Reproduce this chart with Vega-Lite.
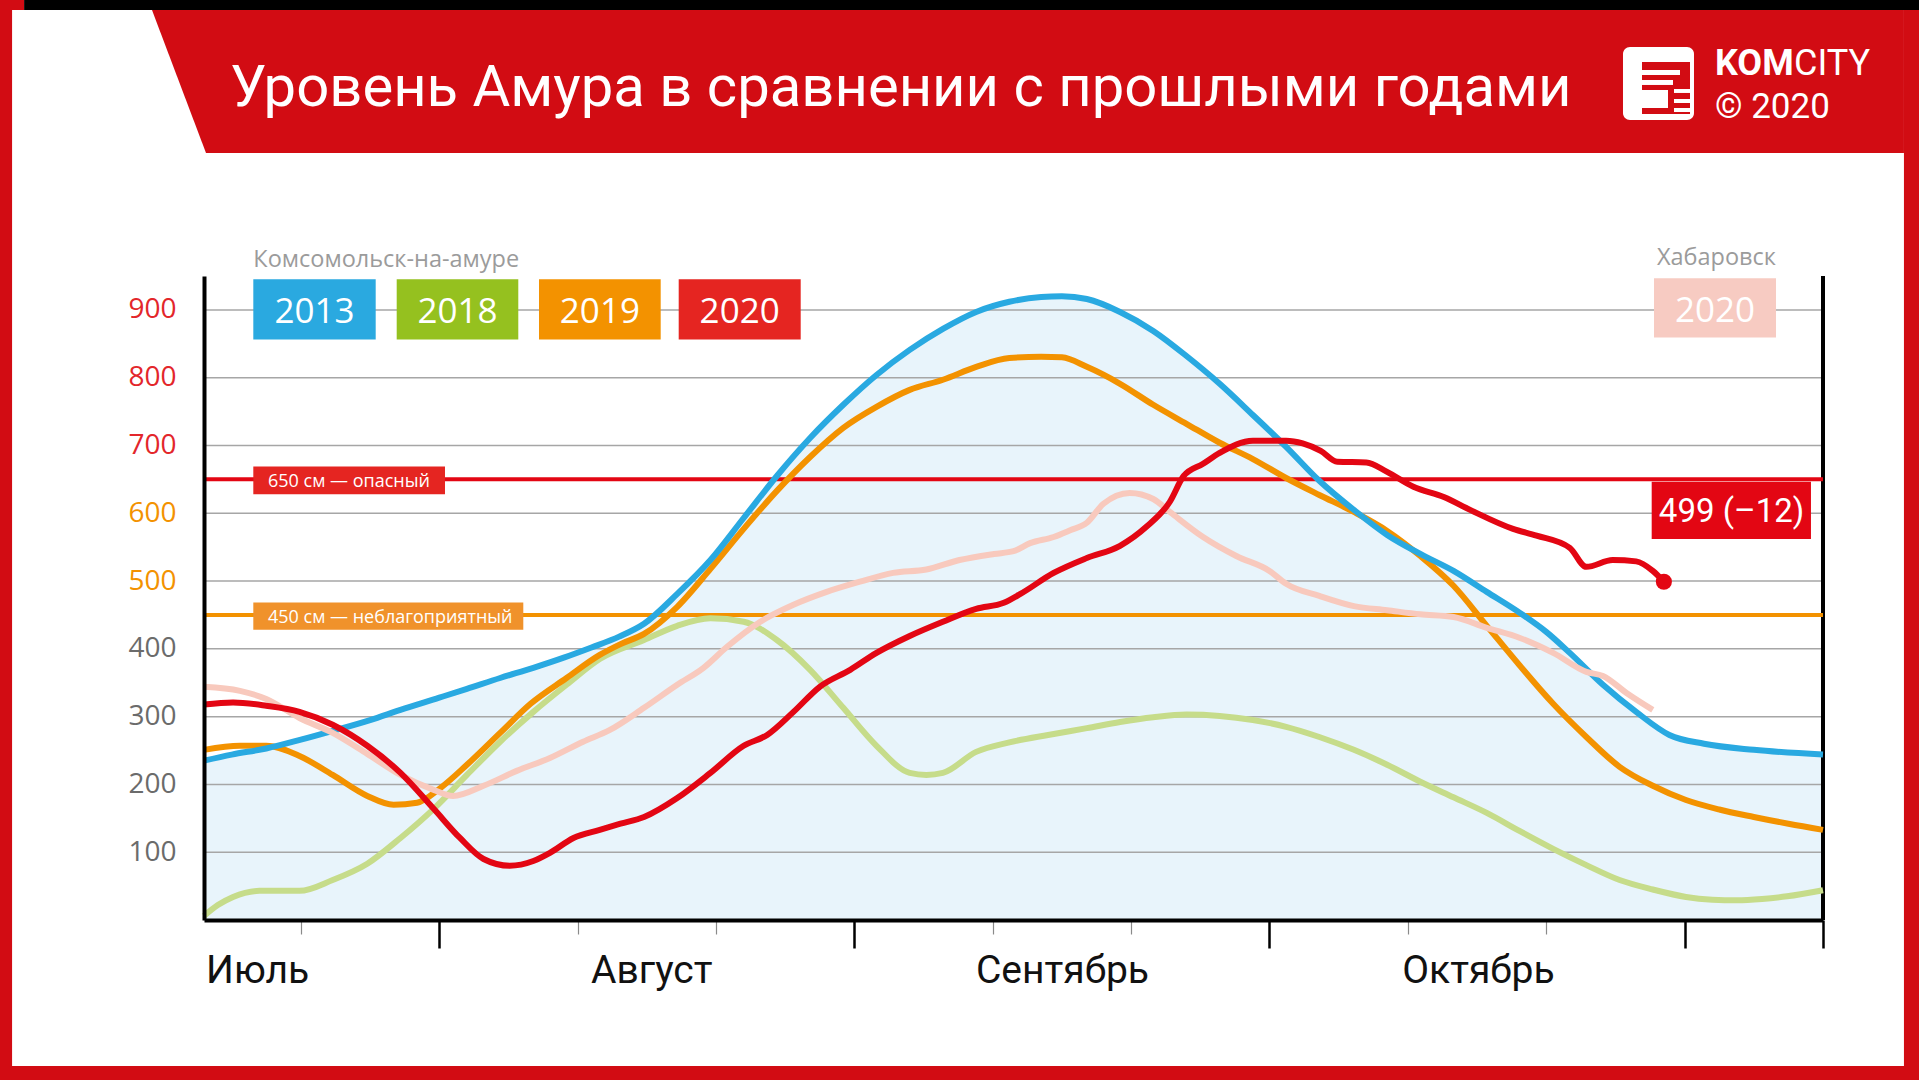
{
"$schema": "https://vega.github.io/schema/vega-lite/v6.json",
"width": 1619, "height": 644,
"autosize": {"type": "none"},
"padding": {"left": 204, "top": 276, "right": 96, "bottom": 160},
"background": "#ffffff",
"config": {"view": {"stroke": null}, "font": "Open Sans", "axis": {"grid": false, "title": null}},
"datasets": {
"s2013": [{"day":13,"level":235},{"day":15,"level":244},{"day":17.5,"level":253},{"day":20,"level":266},{"day":22.3,"level":279},{"day":25,"level":295},{"day":27.2,"level":310},{"day":30,"level":328},{"day":32,"level":341},{"day":34.4,"level":357},{"day":36.8,"level":372},{"day":39,"level":387},{"day":41,"level":402},{"day":43,"level":418},{"day":44.8,"level":437},{"day":47.2,"level":481},{"day":49.6,"level":531},{"day":52,"level":593},{"day":54.4,"level":655},{"day":56.8,"level":711},{"day":59.2,"level":760},{"day":61.6,"level":804},{"day":64,"level":841},{"day":66.4,"level":872},{"day":68.8,"level":897},{"day":71.2,"level":912},{"day":73.5,"level":919},{"day":75,"level":920},{"day":76.8,"level":916},{"day":79.2,"level":897},{"day":81.6,"level":869},{"day":84,"level":832},{"day":86.4,"level":791},{"day":88.8,"level":745},{"day":91.2,"level":698},{"day":93.6,"level":648},{"day":96.1,"level":605},{"day":98.5,"level":568},{"day":100.9,"level":540},{"day":103.3,"level":515},{"day":105.7,"level":484},{"day":108.1,"level":453},{"day":110,"level":425},{"day":111.7,"level":394},{"day":114.1,"level":347},{"day":116.5,"level":307},{"day":118.9,"level":273},{"day":121.4,"level":260},{"day":125,"level":251},{"day":130,"level":244}],
"s2018": [{"day":13,"level":6},{"day":14,"level":22},{"day":15.1,"level":34},{"day":17,"level":43},{"day":19.9,"level":43},{"day":22.3,"level":59},{"day":24.8,"level":83},{"day":27.2,"level":121},{"day":29.6,"level":164},{"day":32,"level":214},{"day":34.4,"level":263},{"day":36.8,"level":307},{"day":39.2,"level":347},{"day":41.6,"level":385},{"day":44.8,"level":413},{"day":47.2,"level":434},{"day":49.6,"level":445},{"day":52,"level":440},{"day":54.4,"level":413},{"day":56.8,"level":369},{"day":59.2,"level":313},{"day":61.6,"level":257},{"day":64,"level":217},{"day":65.2,"level":214},{"day":66.4,"level":217},{"day":68.8,"level":248},{"day":71.2,"level":262},{"day":74,"level":273},{"day":76.8,"level":283},{"day":79.2,"level":292},{"day":81.6,"level":299},{"day":84,"level":303},{"day":86.4,"level":301},{"day":88.8,"level":295},{"day":91.2,"level":285},{"day":93.6,"level":270},{"day":96.1,"level":251},{"day":98.5,"level":229},{"day":100.9,"level":204},{"day":103.3,"level":181},{"day":105.7,"level":158},{"day":108.1,"level":131},{"day":110.5,"level":105},{"day":112.9,"level":81},{"day":115.3,"level":59},{"day":117.7,"level":45},{"day":120.1,"level":34},{"day":122,"level":30},{"day":123.8,"level":29},{"day":125.6,"level":31},{"day":127.4,"level":35},{"day":130,"level":44}],
"s2019": [{"day":13,"level":251},{"day":15.6,"level":257},{"day":17.5,"level":257},{"day":19.9,"level":242},{"day":22.3,"level":214},{"day":24.8,"level":183},{"day":26.7,"level":170},{"day":28.4,"level":173},{"day":30.1,"level":195},{"day":32,"level":229},{"day":34.4,"level":276},{"day":36.6,"level":319},{"day":39.2,"level":357},{"day":41.6,"level":391},{"day":43.1,"level":407},{"day":44.8,"level":422},{"day":47.2,"level":462},{"day":49.6,"level":518},{"day":52,"level":577},{"day":54.4,"level":633},{"day":56.8,"level":683},{"day":59.2,"level":726},{"day":61.6,"level":757},{"day":64,"level":782},{"day":66.4,"level":797},{"day":68.8,"level":816},{"day":71.2,"level":829},{"day":73.5,"level":831},{"day":75,"level":830},{"day":76.8,"level":816},{"day":79.2,"level":791},{"day":81.6,"level":760},{"day":84,"level":732},{"day":86.4,"level":704},{"day":88.8,"level":680},{"day":91.2,"level":652},{"day":93.6,"level":627},{"day":96.1,"level":602},{"day":98.5,"level":574},{"day":100.9,"level":537},{"day":103.3,"level":493},{"day":105.7,"level":434},{"day":108.1,"level":375},{"day":110.5,"level":319},{"day":112.9,"level":270},{"day":115.3,"level":226},{"day":117.7,"level":198},{"day":120.1,"level":177},{"day":122.5,"level":163},{"day":125,"level":152},{"day":127.5,"level":142},{"day":130,"level":133}],
"s2020": [{"day":13,"level":318},{"day":15.1,"level":321},{"day":17.5,"level":316},{"day":19.9,"level":307},{"day":22.3,"level":288},{"day":24.8,"level":257},{"day":27.2,"level":217},{"day":29.6,"level":164},{"day":31.5,"level":121},{"day":33.2,"level":90},{"day":35.1,"level":80},{"day":36.8,"level":87},{"day":38,"level":99},{"day":39.7,"level":121},{"day":41.6,"level":133},{"day":43.1,"level":142},{"day":44.8,"level":152},{"day":47.2,"level":180},{"day":49.6,"level":217},{"day":52,"level":257},{"day":53.7,"level":273},{"day":55.6,"level":307},{"day":57.5,"level":344},{"day":59.7,"level":369},{"day":61.6,"level":394},{"day":64,"level":419},{"day":66.4,"level":440},{"day":68.8,"level":459},{"day":70.8,"level":468},{"day":72,"level":481},{"day":74.4,"level":512},{"day":76.8,"level":534},{"day":79.2,"level":552},{"day":81.1,"level":580},{"day":82.8,"level":617},{"day":83.8,"level":655},{"day":85.2,"level":673},{"day":86.4,"level":689},{"day":88.8,"level":707},{"day":91.2,"level":707},{"day":92.4,"level":703},{"day":93.7,"level":692},{"day":94.9,"level":676},{"day":97,"level":675},{"day":98.5,"level":661},{"day":100.4,"level":639},{"day":102.6,"level":624},{"day":104.5,"level":605},{"day":107.6,"level":577},{"day":109.3,"level":567},{"day":111.7,"level":549},{"day":112.9,"level":521},{"day":114.8,"level":531},{"day":116.5,"level":529},{"day":117.7,"level":515},{"day":118.5,"level":499}],
"khab2020": [{"day":13,"level":344},{"day":15.6,"level":338},{"day":17.5,"level":326},{"day":19.9,"level":298},{"day":22.3,"level":276},{"day":24.8,"level":245},{"day":27.2,"level":214},{"day":29.6,"level":192},{"day":31,"level":183},{"day":33.2,"level":198},{"day":35.6,"level":220},{"day":38,"level":239},{"day":40.4,"level":263},{"day":42.3,"level":280},{"day":44.8,"level":313},{"day":47.2,"level":347},{"day":49.1,"level":372},{"day":50.8,"level":403},{"day":53.2,"level":440},{"day":55.6,"level":465},{"day":58,"level":484},{"day":60.4,"level":499},{"day":62.8,"level":512},{"day":65.2,"level":517},{"day":67.6,"level":531},{"day":70.1,"level":540},{"day":71.5,"level":544},{"day":72.7,"level":556},{"day":74.4,"level":565},{"day":75.6,"level":575},{"day":76.8,"level":586},{"day":78,"level":614},{"day":79.9,"level":630},{"day":81.6,"level":621},{"day":82.8,"level":602},{"day":85.2,"level":565},{"day":87.6,"level":537},{"day":90,"level":515},{"day":91.2,"level":496},{"day":93.6,"level":478},{"day":96.1,"level":463},{"day":98.5,"level":457},{"day":100.9,"level":451},{"day":103.3,"level":447},{"day":105.7,"level":431},{"day":108.1,"level":416},{"day":110.5,"level":394},{"day":112.9,"level":366},{"day":114.1,"level":360},{"day":115.8,"level":335},{"day":117.7,"level":310}],
"grid": [{"level":100},{"level":200},{"level":300},{"level":400},{"level":500},{"level":600},{"level":700},{"level":800},{"level":900}],
"thresholds": [{"level":650,"kind":"опасный"},{"level":450,"kind":"неблагоприятный"}],
"banner": [{"day":9.24,"top":1342.4,"bottom":1342.4},{"day":13.145,"top":1342.4,"bottom":1131.5},{"day":135.85,"top":1342.4,"bottom":1131.5}]
},
"layer": [
{"data":{"name":"s2013"},"mark":{"type":"area","color":"#e8f4fb","interpolate":"monotone"},
 "encoding":{
  "x":{"field":"day","type":"quantitative","scale":{"domain":[13,130],"nice":false,"zero":false},
   "axis":{"values":[20,30,40,50,60,70,80,90,100,110,120,130],"labels":false,"title":null,"grid":false,"domain":true,"ticks":true,"domainColor":"#000000","domainWidth":4,"zindex":1,
    "tickSize":{"condition":{"test":"datum.value % 30 == 0 || datum.value == 130","value":28},"value":14},
    "tickColor":{"condition":{"test":"datum.value % 30 == 0 || datum.value == 130","value":"#000000"},"value":"#8a8a8a"},
    "tickWidth":{"condition":{"test":"datum.value % 30 == 0 || datum.value == 130","value":2.5},"value":1.2}}},
  "y":{"field":"level","type":"quantitative","scale":{"domain":[0,950],"nice":false,"zero":false},
   "axis":{"values":[100,200,300,400,500,600,700,800,900],"title":null,"grid":false,"ticks":false,"domain":true,"labels":true,"domainColor":"#000000","domainWidth":4,"zindex":1,
    "labelFont":"Open Sans","labelFontSize":28,"labelPadding":28,
    "labelColor":{"condition":[{"test":"datum.value >= 700","value":"#e3262b"},{"test":"datum.value >= 500","value":"#f39200"}],"value":"#6b6b6b"}}}}},
{"data":{"name":"grid"},"mark":{"type":"rule","color":"#a6a6a6","strokeWidth":1.5},
 "encoding":{"y":{"field":"level","type":"quantitative","scale":{"domain":[0,950],"nice":false,"zero":false}}}},
{"data":{"values":[{}]},"mark":{"type":"rule","color":"#000000","strokeWidth":4},
 "encoding":{"x":{"datum":130,"type":"quantitative","scale":{"domain":[13,130],"nice":false,"zero":false}}}},
{"data":{"name":"thresholds"},"mark":{"type":"rule","strokeWidth":4},
 "encoding":{"y":{"field":"level","type":"quantitative","scale":{"domain":[0,950],"nice":false,"zero":false}},
  "stroke":{"field":"kind","type":"nominal","scale":{"domain":["опасный","неблагоприятный"],"range":["#e30613","#f39200"]},"legend":null}}},

{"data":{"values":[{}]},"mark":{"type":"rect","color":"#e52521","clip":false},
 "encoding":{"x":{"datum":16.563,"type":"quantitative","scale":{"domain":[13,130],"nice":false,"zero":false}},"x2":{"datum":30.416},
  "y":{"datum":628.0,"type":"quantitative","scale":{"domain":[0,950],"nice":false,"zero":false}},"y2":{"datum":669.0}}},
{"data":{"values":[{}]},"mark":{"type":"rect","color":"#f0922b","clip":false},
 "encoding":{"x":{"datum":16.563,"type":"quantitative","scale":{"domain":[13,130],"nice":false,"zero":false}},"x2":{"datum":36.075},
  "y":{"datum":428.1,"type":"quantitative","scale":{"domain":[0,950],"nice":false,"zero":false}},"y2":{"datum":468.4}}},
{"data":{"values":[{}]},"mark":{"type":"text","text":"650 см — опасный","font":"Open Sans","fontSize":18,"color":"#ffffff","align":"left","baseline":"alphabetic","clip":false},
 "encoding":{"x":{"datum":17.625,"type":"quantitative","scale":{"domain":[13,130],"nice":false,"zero":false}},
  "y":{"datum":639.2,"type":"quantitative","scale":{"domain":[0,950],"nice":false,"zero":false}}}},
{"data":{"values":[{}]},"mark":{"type":"text","text":"450 см — неблагоприятный","font":"Open Sans","fontSize":18,"color":"#ffffff","align":"left","baseline":"alphabetic","clip":false},
 "encoding":{"x":{"datum":17.625,"type":"quantitative","scale":{"domain":[13,130],"nice":false,"zero":false}},
  "y":{"datum":437.7,"type":"quantitative","scale":{"domain":[0,950],"nice":false,"zero":false}}}},

{"data":{"values":[{}]},"mark":{"type":"rect","color":"#2aa9e0","clip":false},
 "encoding":{"x":{"datum":16.563,"type":"quantitative","scale":{"domain":[13,130],"nice":false,"zero":false}},"x2":{"datum":25.408},
  "y":{"datum":856.5,"type":"quantitative","scale":{"domain":[0,950],"nice":false,"zero":false}},"y2":{"datum":945.1}}},
{"data":{"values":[{}]},"mark":{"type":"rect","color":"#95c11f","clip":false},
 "encoding":{"x":{"datum":26.926,"type":"quantitative","scale":{"domain":[13,130],"nice":false,"zero":false}},"x2":{"datum":35.713},
  "y":{"datum":856.5,"type":"quantitative","scale":{"domain":[0,950],"nice":false,"zero":false}},"y2":{"datum":945.1}}},
{"data":{"values":[{}]},"mark":{"type":"rect","color":"#f39200","clip":false},
 "encoding":{"x":{"datum":37.21,"type":"quantitative","scale":{"domain":[13,130],"nice":false,"zero":false}},"x2":{"datum":46.004},
  "y":{"datum":856.5,"type":"quantitative","scale":{"domain":[0,950],"nice":false,"zero":false}},"y2":{"datum":945.1}}},
{"data":{"values":[{}]},"mark":{"type":"rect","color":"#e52521","clip":false},
 "encoding":{"x":{"datum":47.305,"type":"quantitative","scale":{"domain":[13,130],"nice":false,"zero":false}},"x2":{"datum":56.122},
  "y":{"datum":856.5,"type":"quantitative","scale":{"domain":[0,950],"nice":false,"zero":false}},"y2":{"datum":945.1}}},
{"data":{"values":[{}]},"mark":{"type":"rect","color":"#f7cbc2","clip":false},
 "encoding":{"x":{"datum":117.787,"type":"quantitative","scale":{"domain":[13,130],"nice":false,"zero":false}},"x2":{"datum":126.604},
  "y":{"datum":859.4,"type":"quantitative","scale":{"domain":[0,950],"nice":false,"zero":false}},"y2":{"datum":946.5}}},
{"data":{"values":[{}]},"mark":{"type":"text","text":"2013","font":"Open Sans","fontSize":35,"color":"#ffffff","align":"center","baseline":"alphabetic","clip":false},
 "encoding":{"x":{"datum":20.99,"type":"quantitative","scale":{"domain":[13,130],"nice":false,"zero":false}},
  "y":{"datum":880,"type":"quantitative","scale":{"domain":[0,950],"nice":false,"zero":false}}}},
{"data":{"values":[{}]},"mark":{"type":"text","text":"2018","font":"Open Sans","fontSize":35,"color":"#ffffff","align":"center","baseline":"alphabetic","clip":false},
 "encoding":{"x":{"datum":31.32,"type":"quantitative","scale":{"domain":[13,130],"nice":false,"zero":false}},
  "y":{"datum":880,"type":"quantitative","scale":{"domain":[0,950],"nice":false,"zero":false}}}},
{"data":{"values":[{}]},"mark":{"type":"text","text":"2019","font":"Open Sans","fontSize":35,"color":"#ffffff","align":"center","baseline":"alphabetic","clip":false},
 "encoding":{"x":{"datum":41.61,"type":"quantitative","scale":{"domain":[13,130],"nice":false,"zero":false}},
  "y":{"datum":880,"type":"quantitative","scale":{"domain":[0,950],"nice":false,"zero":false}}}},
{"data":{"values":[{}]},"mark":{"type":"text","text":"2020","font":"Open Sans","fontSize":35,"color":"#ffffff","align":"center","baseline":"alphabetic","clip":false},
 "encoding":{"x":{"datum":51.71,"type":"quantitative","scale":{"domain":[13,130],"nice":false,"zero":false}},
  "y":{"datum":880,"type":"quantitative","scale":{"domain":[0,950],"nice":false,"zero":false}}}},
{"data":{"values":[{}]},"mark":{"type":"text","text":"2020","font":"Open Sans","fontSize":35,"color":"#ffffff","align":"center","baseline":"alphabetic","clip":false},
 "encoding":{"x":{"datum":122.2,"type":"quantitative","scale":{"domain":[13,130],"nice":false,"zero":false}},
  "y":{"datum":882,"type":"quantitative","scale":{"domain":[0,950],"nice":false,"zero":false}}}},
{"data":{"values":[{}]},"mark":{"type":"text","text":"Комсомольск-на-амуре","font":"Open Sans","fontSize":23.5,"color":"#9b9b9b","align":"left","baseline":"alphabetic","clip":false},
 "encoding":{"x":{"datum":16.563,"type":"quantitative","scale":{"domain":[13,130],"nice":false,"zero":false}},
  "y":{"datum":963.3,"type":"quantitative","scale":{"domain":[0,950],"nice":false,"zero":false}}}},
{"data":{"values":[{}]},"mark":{"type":"text","text":"Хабаровск","font":"Open Sans","fontSize":23.5,"color":"#9b9b9b","align":"right","baseline":"alphabetic","clip":false},
 "encoding":{"x":{"datum":126.604,"type":"quantitative","scale":{"domain":[13,130],"nice":false,"zero":false}},
  "y":{"datum":966.2,"type":"quantitative","scale":{"domain":[0,950],"nice":false,"zero":false}}}},

{"data":{"name":"s2018"},"mark":{"type":"line","color":"#c6dc8a","strokeWidth":6,"interpolate":"monotone"},
 "encoding":{"x":{"field":"day","type":"quantitative","scale":{"domain":[13,130],"nice":false,"zero":false}},
  "y":{"field":"level","type":"quantitative","scale":{"domain":[0,950],"nice":false,"zero":false}}}},
{"data":{"name":"s2019"},"mark":{"type":"line","color":"#f39200","strokeWidth":6,"interpolate":"monotone"},
 "encoding":{"x":{"field":"day","type":"quantitative","scale":{"domain":[13,130],"nice":false,"zero":false}},
  "y":{"field":"level","type":"quantitative","scale":{"domain":[0,950],"nice":false,"zero":false}}}},
{"data":{"name":"s2013"},"mark":{"type":"line","color":"#29a9e1","strokeWidth":6,"interpolate":"monotone"},
 "encoding":{"x":{"field":"day","type":"quantitative","scale":{"domain":[13,130],"nice":false,"zero":false}},
  "y":{"field":"level","type":"quantitative","scale":{"domain":[0,950],"nice":false,"zero":false}}}},
{"data":{"name":"khab2020"},"mark":{"type":"line","color":"#f8c9bd","strokeWidth":6,"interpolate":"monotone"},
 "encoding":{"x":{"field":"day","type":"quantitative","scale":{"domain":[13,130],"nice":false,"zero":false}},
  "y":{"field":"level","type":"quantitative","scale":{"domain":[0,950],"nice":false,"zero":false}}}},
{"data":{"name":"s2020"},"mark":{"type":"line","color":"#e30613","strokeWidth":6,"interpolate":"monotone"},
 "encoding":{"x":{"field":"day","type":"quantitative","scale":{"domain":[13,130],"nice":false,"zero":false}},
  "y":{"field":"level","type":"quantitative","scale":{"domain":[0,950],"nice":false,"zero":false}}}},
{"data":{"name":"s2020"},"transform":[{"filter":"datum.day == 118.5"}],"mark":{"type":"point","filled":true,"size":260,"color":"#e30613","opacity":1},
 "encoding":{"x":{"field":"day","type":"quantitative","scale":{"domain":[13,130],"nice":false,"zero":false}},
  "y":{"field":"level","type":"quantitative","scale":{"domain":[0,950],"nice":false,"zero":false}}}},

{"data":{"values":[{}]},"mark":{"type":"rect","color":"#e30613","clip":false},
 "encoding":{"x":{"datum":117.62,"type":"quantitative","scale":{"domain":[13,130],"nice":false,"zero":false}},"x2":{"datum":129.13},
  "y":{"datum":562.0,"type":"quantitative","scale":{"domain":[0,950],"nice":false,"zero":false}},"y2":{"datum":646.4}}},
{"data":{"values":[{}]},"mark":{"type":"text","text":"499 (–12)","font":"Roboto","fontSize":33,"color":"#ffffff","align":"center","baseline":"alphabetic","clip":false},
 "encoding":{"x":{"datum":123.39,"type":"quantitative","scale":{"domain":[13,130],"nice":false,"zero":false}},
  "y":{"datum":587.4,"type":"quantitative","scale":{"domain":[0,950],"nice":false,"zero":false}}}},

{"data":{"values":[{}]},"mark":{"type":"text","text":"Июль","font":"Roboto","fontSize":39,"color":"#111111","align":"left","baseline":"alphabetic","clip":false},
 "encoding":{"x":{"datum":13.15,"type":"quantitative","scale":{"domain":[13,130],"nice":false,"zero":false}},
  "y":{"datum":-92.9,"type":"quantitative","scale":{"domain":[0,950],"nice":false,"zero":false}}}},
{"data":{"values":[{}]},"mark":{"type":"text","text":"Август","font":"Roboto","fontSize":39,"color":"#111111","align":"center","baseline":"alphabetic","clip":false},
 "encoding":{"x":{"datum":45.36,"type":"quantitative","scale":{"domain":[13,130],"nice":false,"zero":false}},
  "y":{"datum":-92.9,"type":"quantitative","scale":{"domain":[0,950],"nice":false,"zero":false}}}},
{"data":{"values":[{}]},"mark":{"type":"text","text":"Сентябрь","font":"Roboto","fontSize":39,"color":"#111111","align":"center","baseline":"alphabetic","clip":false},
 "encoding":{"x":{"datum":75.04,"type":"quantitative","scale":{"domain":[13,130],"nice":false,"zero":false}},
  "y":{"datum":-92.9,"type":"quantitative","scale":{"domain":[0,950],"nice":false,"zero":false}}}},
{"data":{"values":[{}]},"mark":{"type":"text","text":"Октябрь","font":"Roboto","fontSize":39,"color":"#111111","align":"center","baseline":"alphabetic","clip":false},
 "encoding":{"x":{"datum":105.1,"type":"quantitative","scale":{"domain":[13,130],"nice":false,"zero":false}},
  "y":{"datum":-92.9,"type":"quantitative","scale":{"domain":[0,950],"nice":false,"zero":false}}}},

{"data":{"name":"banner"},"mark":{"type":"area","color":"#d20c13","orient":"vertical","interpolate":"linear","clip":false},
 "encoding":{"x":{"field":"day","type":"quantitative","scale":{"domain":[13,130],"nice":false,"zero":false}},
  "y":{"field":"top","type":"quantitative","scale":{"domain":[0,950],"nice":false,"zero":false}},"y2":{"field":"bottom"}}},
{"data":{"values":[{}]},"mark":{"type":"rect","color":"#d20c13","clip":false},
 "encoding":{"x":{"datum":-1.75,"type":"quantitative","scale":{"domain":[13,130],"nice":false,"zero":false}},"x2":{"datum":-0.87},
  "y":{"datum":-236,"type":"quantitative","scale":{"domain":[0,950],"nice":false,"zero":false}},"y2":{"datum":1357.2}}},
{"data":{"values":[{}]},"mark":{"type":"rect","color":"#d20c13","clip":false},
 "encoding":{"x":{"datum":-1.75,"type":"quantitative","scale":{"domain":[13,130],"nice":false,"zero":false}},"x2":{"datum":0},
  "y":{"datum":1342.4,"type":"quantitative","scale":{"domain":[0,950],"nice":false,"zero":false}},"y2":{"datum":1357.2}}},
{"data":{"values":[{}]},"mark":{"type":"rect","color":"#d20c13","clip":false},
 "encoding":{"x":{"datum":135.85,"type":"quantitative","scale":{"domain":[13,130],"nice":false,"zero":false}},"x2":{"datum":136.94},
  "y":{"datum":-236,"type":"quantitative","scale":{"domain":[0,950],"nice":false,"zero":false}},"y2":{"datum":1357.2}}},
{"data":{"values":[{}]},"mark":{"type":"rect","color":"#d20c13","clip":false},
 "encoding":{"x":{"datum":-1.75,"type":"quantitative","scale":{"domain":[13,130],"nice":false,"zero":false}},"x2":{"datum":136.94},
  "y":{"datum":-236,"type":"quantitative","scale":{"domain":[0,950],"nice":false,"zero":false}},"y2":{"datum":-215.4}}},
{"data":{"values":[{}]},"mark":{"type":"rect","color":"#000000","clip":false},
 "encoding":{"x":{"datum":0,"type":"quantitative","scale":{"domain":[13,130],"nice":false,"zero":false}},"x2":{"datum":136.94},
  "y":{"datum":1342.4,"type":"quantitative","scale":{"domain":[0,950],"nice":false,"zero":false}},"y2":{"datum":1357.2}}},
{"data":{"values":[{}]},"mark":{"type":"text","text":"Уровень Амура в сравнении с прошлыми годами","font":"Roboto","fontSize":58,"color":"#ffffff","align":"left","baseline":"alphabetic","clip":false},
 "encoding":{"x":{"datum":14.879,"type":"quantitative","scale":{"domain":[13,130],"nice":false,"zero":false}},
  "y":{"datum":1200.8,"type":"quantitative","scale":{"domain":[0,950],"nice":false,"zero":false}}}},

{"data":{"values":[{}]},"mark":{"type":"rect","color":"#ffffff","cornerRadius":7,"clip":false},
 "encoding":{"x":{"datum":115.546,"type":"quantitative","scale":{"domain":[13,130],"nice":false,"zero":false}},"x2":{"datum":120.677},
  "y":{"datum":1180.1,"type":"quantitative","scale":{"domain":[0,950],"nice":false,"zero":false}},"y2":{"datum":1287.8}}},
{"data":{"values":[{}]},"mark":{"type":"rect","color":"#d20c13","clip":false},
 "encoding":{"x":{"datum":116.92,"type":"quantitative","scale":{"domain":[13,130],"nice":false,"zero":false}},"x2":{"datum":120.389},
  "y":{"datum":1189.0,"type":"quantitative","scale":{"domain":[0,950],"nice":false,"zero":false}},"y2":{"datum":1265.7}}},
{"data":{"values":[{}]},"mark":{"type":"rect","color":"#ffffff","clip":false},
 "encoding":{"x":{"datum":116.92,"type":"quantitative","scale":{"domain":[13,130],"nice":false,"zero":false}},"x2":{"datum":119.666},
  "y":{"datum":1246.5,"type":"quantitative","scale":{"domain":[0,950],"nice":false,"zero":false}},"y2":{"datum":1253.9}}},
{"data":{"values":[{}]},"mark":{"type":"rect","color":"#ffffff","clip":false},
 "encoding":{"x":{"datum":116.92,"type":"quantitative","scale":{"domain":[13,130],"nice":false,"zero":false}},"x2":{"datum":119.16},
  "y":{"datum":1231.8,"type":"quantitative","scale":{"domain":[0,950],"nice":false,"zero":false}},"y2":{"datum":1239.1}}},
{"data":{"values":[{}]},"mark":{"type":"rect","color":"#ffffff","clip":false},
 "encoding":{"x":{"datum":116.92,"type":"quantitative","scale":{"domain":[13,130],"nice":false,"zero":false}},"x2":{"datum":118.8},
  "y":{"datum":1197.8,"type":"quantitative","scale":{"domain":[0,950],"nice":false,"zero":false}},"y2":{"datum":1224.4}}},
{"data":{"values":[{}]},"mark":{"type":"rect","color":"#ffffff","clip":false},
 "encoding":{"x":{"datum":119.232,"type":"quantitative","scale":{"domain":[13,130],"nice":false,"zero":false}},"x2":{"datum":120.389},
  "y":{"datum":1220.0,"type":"quantitative","scale":{"domain":[0,950],"nice":false,"zero":false}},"y2":{"datum":1225.9}}},
{"data":{"values":[{}]},"mark":{"type":"rect","color":"#ffffff","clip":false},
 "encoding":{"x":{"datum":119.232,"type":"quantitative","scale":{"domain":[13,130],"nice":false,"zero":false}},"x2":{"datum":120.389},
  "y":{"datum":1205.2,"type":"quantitative","scale":{"domain":[0,950],"nice":false,"zero":false}},"y2":{"datum":1211.1}}},
{"data":{"values":[{}]},"mark":{"type":"rect","color":"#ffffff","clip":false},
 "encoding":{"x":{"datum":119.232,"type":"quantitative","scale":{"domain":[13,130],"nice":false,"zero":false}},"x2":{"datum":120.389},
  "y":{"datum":1191.9,"type":"quantitative","scale":{"domain":[0,950],"nice":false,"zero":false}},"y2":{"datum":1197.8}}},
{"data":{"values":[{}]},"mark":{"type":"text","text":"KOM","font":"Roboto","fontWeight":"bold","fontSize":36,"color":"#ffffff","align":"left","baseline":"alphabetic","clip":false},
 "encoding":{"x":{"datum":122.195,"type":"quantitative","scale":{"domain":[13,130],"nice":false,"zero":false}},
  "y":{"datum":1246.5,"type":"quantitative","scale":{"domain":[0,950],"nice":false,"zero":false}}}},
{"data":{"values":[{}]},"mark":{"type":"text","text":"CITY","font":"Roboto","fontSize":36,"color":"#ffffff","align":"left","baseline":"alphabetic","clip":false},
 "encoding":{"x":{"datum":127.905,"type":"quantitative","scale":{"domain":[13,130],"nice":false,"zero":false}},
  "y":{"datum":1246.5,"type":"quantitative","scale":{"domain":[0,950],"nice":false,"zero":false}}}},
{"data":{"values":[{}]},"mark":{"type":"text","text":"© 2020","font":"Roboto","fontSize":35,"color":"#ffffff","align":"left","baseline":"alphabetic","clip":false},
 "encoding":{"x":{"datum":122.195,"type":"quantitative","scale":{"domain":[13,130],"nice":false,"zero":false}},
  "y":{"datum":1183.1,"type":"quantitative","scale":{"domain":[0,950],"nice":false,"zero":false}}}}
]
}
